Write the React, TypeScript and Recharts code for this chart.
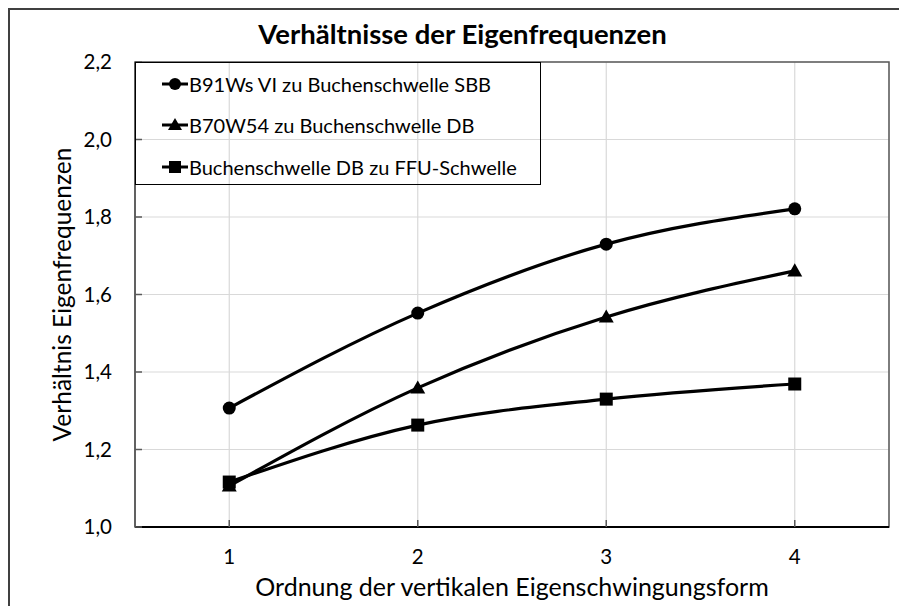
import React from "react";
import { LineChart, Line, XAxis, YAxis, CartesianGrid, Legend, ReferenceArea } from "recharts";

const categories = [1, 2, 3, 4];
const seriesNames = [
  "B91Ws VI zu Buchenschwelle SBB",
  "B70W54 zu Buchenschwelle DB",
  "Buchenschwelle DB zu FFU-Schwelle",
];
const seriesCircle = [1.307, 1.552, 1.73, 1.821];
const seriesTriangle = [1.106, 1.359, 1.542, 1.661];
const seriesSquare = [1.116, 1.263, 1.33, 1.369];
const yTicks = [1.0, 1.2, 1.4, 1.6, 1.8, 2.0, 2.2];

const title = "Verhältnisse der Eigenfrequenzen";
const xTitle = "Ordnung der vertikalen Eigenschwingungsform";
const yTitle = "Verhältnis Eigenfrequenzen";

const data = categories.map((c, i) => ({
  x: c,
  s1: seriesCircle[i],
  s2: seriesTriangle[i],
  s3: seriesSquare[i],
}));

const FONT = "Lato, 'Open Sans', sans-serif";

const Circle = (props: any) => {
  const { cx, cy, index } = props;
  if (cx == null || cy == null) return <g key={`c${index}`} />;
  return <circle key={`c${index}`} cx={cx} cy={cy} r={6.5} fill="#000" />;
};
const Tri = (props: any) => {
  const { cx, cy, index } = props;
  if (cx == null || cy == null) return <g key={`t${index}`} />;
  const s = 7.5;
  return (
    <polygon
      key={`t${index}`}
      points={`${cx},${cy - s} ${cx - s},${cy + s * 0.75} ${cx + s},${cy + s * 0.75}`}
      fill="#000"
    />
  );
};
const Sq = (props: any) => {
  const { cx, cy, index } = props;
  if (cx == null || cy == null) return <g key={`s${index}`} />;
  const s = 6.5;
  return <rect key={`s${index}`} x={cx - s} y={cy - s} width={2 * s} height={2 * s} fill="#000" />;
};

const markerIcon = (i: number) => {
  const cx = 13;
  const cy = 10;
  return (
    <svg width={26} height={20} style={{ display: "block", flex: "none" }}>
      <line x1={0} y1={cy} x2={26} y2={cy} stroke="#000" strokeWidth={3} />
      {i === 0 && <circle cx={cx} cy={cy} r={6} fill="#000" />}
      {i === 1 && (
        <polygon points={`${cx},${cy - 7} ${cx - 7},${cy + 5} ${cx + 7},${cy + 5}`} fill="#000" />
      )}
      {i === 2 && <rect x={cx - 6} y={cy - 6} width={12} height={12} fill="#000" />}
    </svg>
  );
};

const LegendBox = () => (
  <div
    style={{
      width: 406,
      height: 123,
      border: "1.5px solid #000",
      boxSizing: "border-box",
      fontFamily: FONT,
      fontSize: 20,
      color: "#000",
      paddingTop: 0,
      paddingLeft: 26,
    }}
  >
    {seriesNames.map((n, i) => (
      <div key={n} style={{ display: "flex", alignItems: "center", height: 41.5 }}>
        {markerIcon(i)}
        <span style={{ marginLeft: 1, whiteSpace: "nowrap" }}>{n}</span>
      </div>
    ))}
  </div>
);

export default function App() {
  return (
    <div
      style={{
        position: "relative",
        width: 899,
        height: 598,
        borderTop: "2px solid #404040",
        borderLeft: "2px solid #404040",
        boxSizing: "border-box",
        background: "#fff",
      }}
    >
      <div
        style={{
          position: "absolute",
          left: 0,
          width: 907,
          top: 7,
          textAlign: "center",
          fontFamily: FONT,
          fontWeight: "bold",
          fontSize: 27.5,
          color: "#000",
          paddingRight: 2,
          boxSizing: "border-box",
          lineHeight: "34px",
        }}
      >
        {title}
      </div>
      <LineChart
        width={897}
        height={596}
        data={data}
        margin={{ top: 52, right: 18, bottom: 0, left: 0 }}
      >
        <CartesianGrid stroke="#d9d9d9" strokeWidth={1.2} />
        <ReferenceArea
          x1={0.5}
          x2={4.5}
          y1={1.0}
          y2={2.2}
          fill="none"
          stroke="#595959"
          strokeWidth={1.5}
          fillOpacity={0}
        />
        <XAxis
          dataKey="x"
          type="number"
          domain={[0.5, 4.5]}
          ticks={categories}
          allowDataOverflow
          height={79}
          axisLine={{ stroke: "#000", strokeWidth: 2 }}
          tickLine={{ stroke: "#595959", strokeWidth: 1.5 }}
          tickSize={-7}
          tickMargin={29}
          tick={{ fill: "#000", fontSize: 20.5, fontFamily: FONT }}
          label={{
            value: xTitle,
            position: "insideBottom",
            offset: 10,
            style: { fill: "#000", fontSize: 25, fontFamily: FONT },
          }}
        />
        <YAxis
          type="number"
          domain={[1.0, 2.2]}
          ticks={yTicks}
          allowDataOverflow
          width={125}
          axisLine={{ stroke: "#595959", strokeWidth: 1.5 }}
          tickLine={{ stroke: "#595959", strokeWidth: 1.5 }}
          tickSize={-7}
          tickMargin={30}
          tickFormatter={(v: number) => v.toFixed(1).replace(".", ",")}
          tick={{ fill: "#000", fontSize: 20.5, fontFamily: FONT }}
          label={{
            value: yTitle,
            angle: -90,
            position: "insideLeft",
            offset: 52,
            style: { fill: "#000", fontSize: 24.5, fontFamily: FONT, textAnchor: "middle" },
          }}
        />
        <Legend
          layout="horizontal"
          verticalAlign="middle"
          align="center"
          wrapperStyle={{ top: 52, left: 125, width: 406, height: 123 }}
          content={() => <LegendBox />}
        />
        <Line
          dataKey="s1"
          name={seriesNames[0]}
          type="monotone"
          stroke="#000"
          strokeWidth={3.2}
          dot={Circle}
          isAnimationActive={false}
        />
        <Line
          dataKey="s2"
          name={seriesNames[1]}
          type="monotone"
          stroke="#000"
          strokeWidth={3.2}
          dot={Tri}
          isAnimationActive={false}
        />
        <Line
          dataKey="s3"
          name={seriesNames[2]}
          type="monotone"
          stroke="#000"
          strokeWidth={3.2}
          dot={Sq}
          isAnimationActive={false}
        />
      </LineChart>
    </div>
  );
}
